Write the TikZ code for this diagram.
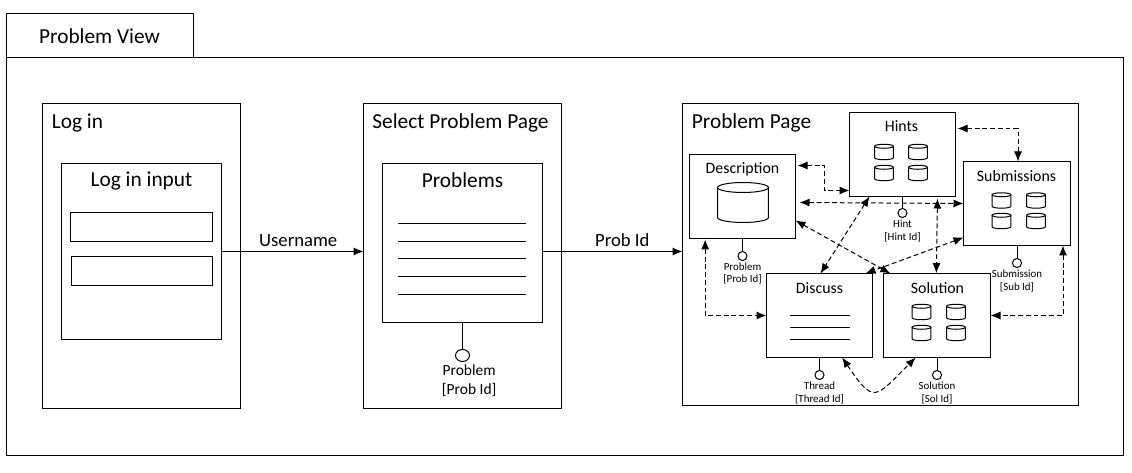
\documentclass[tikz,border=0pt]{standalone}
\usepackage{fontspec}
\setmainfont{Carlito}
\usetikzlibrary{positioning,arrows.meta,shapes.geometric}
\tikzset{
sized/.style 2 args={
  minimum width=#1*0.75pt,
  minimum height=#2*0.75pt
  },
box/.style={
  draw,
  fill=white,
  anchor=north west,
  inner sep=0pt,
  outer sep=0pt
  },
bigtxt/.style={font=\fontsize{16}{18}\selectfont,inner sep=0pt},
arrowtxt/.style={font=\fontsize{14}{16}\selectfont,inner sep=0pt},
midtxt/.style={font=\fontsize{11.9}{14}\selectfont,inner sep=0pt},
smalltxt/.style={font=\fontsize{8.2}{9.3}\selectfont,align=center,inner sep=0pt},
port/.style={circle,draw,fill=white,inner sep=0pt,outer sep=0pt,minimum size=6.8pt},
pics/dbcyl/.style n args={3}{
  code={
    \draw (-#1,#2) -- (-#1,-#2) arc[start angle=180,end angle=360,x radius=#1,y radius=#3] -- (#1,#2);
    \draw (0,#2) ellipse[x radius=#1,y radius=#3];
  }
  },
link/.style={<->,dashed,dash pattern=on 3.6pt off 2.2pt}
}

\begin{document}
\begin{tikzpicture}[x=0.75pt,y=-0.75pt,line width=0.75pt,>={Latex[length=7.5pt,width=6pt]}]

\useasboundingbox (-0.5,-0.5) rectangle (1131.5,472.5);

\node[box,sized={187}{44}] (tab) at (6,13) {};
\node[box,sized={1117}{398}] (view) at (6,57) {};
\node[bigtxt] (viewname) at (99,36) {Problem View};

\node[box,sized={198}{305}] (login) at (42,103) {};
\node[box,sized={160}{176}] (loginput) at (61,163) {};
\node[box,sized={142}{29}] (field1) at (70,212) {};
\node[box,sized={141}{29}] (field2) at (71,256) {};
\node[bigtxt] (loginname) at (77,122) {Log in};
\node[bigtxt] (loginputname) at (141,180) {Log in input};

\node[box,sized={198}{305}] (select) at (363,103) {};
\node[box,sized={160}{159}] (problems) at (382,163) {};
\node[bigtxt] (selectname) at (460,122) {Select Problem Page};
\node[bigtxt] (problemsname) at (462,180) {Problems};
\foreach \y in {223,241,258,276,294}
  \draw (397,\y) -- (525,\y);

\node[port,ellipse,minimum width=10.5pt,minimum height=9pt,below=20.25pt of problems] (problemport) {};
\node[font=\fontsize{11.6}{14}\selectfont,align=center,inner sep=0pt,below=2pt of problemport,xshift=5pt] (problemlabel) {Problem\\{}[Prob Id]};
\draw (problems) -- (problemport);

\node[box,sized={396}{302}] (page) at (682,103) {};
\node[bigtxt] (pagename) at (751,122) {Problem Page};

\node[box,sized={106}{84}] (hints) at (849,112) {};
\node[box,sized={106}{84}] (desc) at (689,154) {};
\node[box,sized={107}{84}] (subs) at (963,161) {};
\node[box,sized={106}{84}] (discuss) at (766,273) {};
\node[box,sized={107}{84}] (sol) at (883,273) {};

\node[midtxt] (hintsname) at (901,126) {Hints};
\node[midtxt] (descname) at (742,169) {Description};
\node[midtxt] (subsname) at (1016,176) {Submissions};
\node[midtxt] (discussname) at (819,288) {Discuss};
\node[midtxt] (solname) at (937,288) {Solution};

\pic at (742.5,202) {dbcyl={19.1pt}{11.25pt}{3.75pt}};

\foreach \x/\y in {883.5/151.5,917.5/151.5,883.5/172.5,917.5/172.5,1001/200,1035.5/200,1001/220.5,1035.5/220.5,921/311.5,955.5/311.5,921/332.5,955.5/332.5}
  \pic at (\x,\y) {dbcyl={7.1pt}{4.3pt}{1.5pt}};

\foreach \y in {315,327,339}
  \draw (789,\y) -- (849,\y);

\node[port,below=9pt of hints] (hintport) {};
\node[port,below=9.75pt of desc] (descport) {};
\node[port,below=9.75pt of subs] (subport) {};
\node[port,below=9.75pt of discuss] (threadport) {};
\node[port,below=9.75pt of sol] (solport) {};

\draw (hints) -- (hintport);
\draw (desc) -- (descport);
\draw (subs) -- (subport);
\draw (discuss) -- (threadport);
\draw (sol) -- (solport);

\node[smalltxt,below=1.7pt of hintport] (hintlabel) {Hint\\{}[Hint Id]};
\node[smalltxt,below=1.2pt of descport] (desclabel) {Problem\\{}[Prob Id]};
\node[smalltxt,below=1.7pt of subport] (sublabel) {Submission\\{}[Sub Id]};
\node[smalltxt,below=1.7pt of threadport] (threadlabel) {Thread\\{}[Thread Id]};
\node[smalltxt,below=1.7pt of solport] (sollabel) {Solution\\{}[Sol Id]};

\draw[->] (loginput.east) -- node[arrowtxt,above=3.5pt,pos=0.54] (username) {Username} ([yshift=3.375pt]select.west);
\draw[->] ([yshift=-6.375pt]problems.east) -- node[arrowtxt,above=3.5pt,pos=0.57] (probid) {Prob Id} ([yshift=2.25pt]page.west);

\draw[link] ([xshift=1.5pt,yshift=19.5pt]hints.east) -| ([xshift=0.75pt]subs.north);
\draw[link] ([xshift=1.5pt,yshift=23.25pt]desc.east) -- ++(27,0) |- ([yshift=4.5pt]hints.west |- hints.south);
\draw[link] ([xshift=3pt,yshift=-4.5pt]desc.east) -- (subs.west);
\draw[link] ([yshift=-18pt]desc.east) -- ([xshift=-35pt]sol.north);
\draw[link] ([xshift=-24.75pt]hints.south) -- ([xshift=0.75pt]discuss.north);
\draw[link] ([xshift=26.25pt,yshift=-1.5pt]hints.south) -- ([xshift=-0.5pt,yshift=0.25pt]sol.north);
\draw[link] ([yshift=-25.5pt]subs.west) -- ([xshift=34.5pt]discuss.north);
\draw[link] ([xshift=-28pt,yshift=-0.75pt]desc.south) |- (discuss.west);
\draw[link] ([xshift=34.5pt]subs.south) |- (sol.east);
\draw[link] ([xshift=17pt]discuss.south) to[out=-56,in=-135,looseness=2] ([xshift=-16pt]sol.south);

\end{tikzpicture}
\end{document}
